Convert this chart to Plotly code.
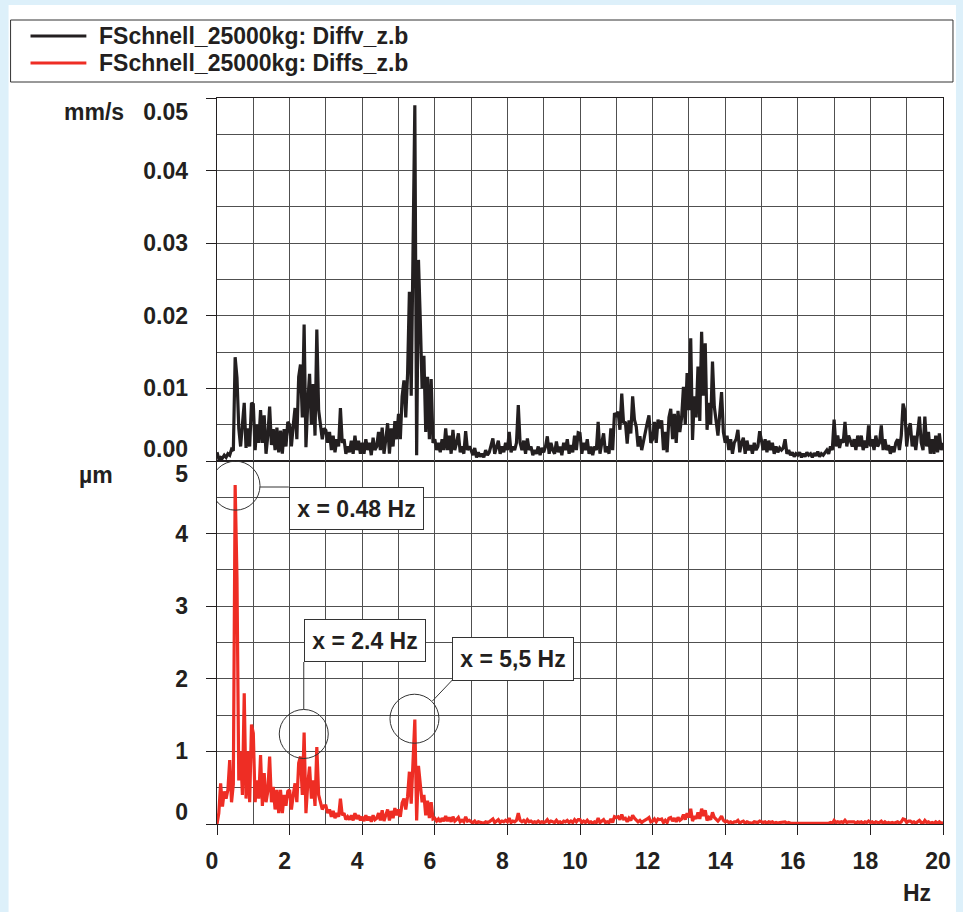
import plotly.graph_objects as go

# ---------------- data ----------------
FREQ_START_HZ = 0.0
FREQ_STEP_HZ = 0.05   # spectral line spacing of both series (0 ... 20 Hz)

# black series: velocity spectrum, mm/s
velocity_mm_s = [
    0.0012, 0.0003, 0.0005, 0.0004, 0.0008, 0.0005, 0.0010, 0.0008, 0.0016, 0.0014, 0.0143, 0.0115, 0.0045, 0.0020, 0.0050, 0.0080, 0.0018, 0.0045, 0.0020, 0.0080,
    0.0078, 0.0015, 0.0050, 0.0025, 0.0070, 0.0025, 0.0063, 0.0010, 0.0035, 0.0075, 0.0022, 0.0044, 0.0015, 0.0046, 0.0012, 0.0042, 0.0010, 0.0044, 0.0020, 0.0054,
    0.0050, 0.0020, 0.0049, 0.0073, 0.0030, 0.0116, 0.0133, 0.0060, 0.0188, 0.0019, 0.0080, 0.0120, 0.0050, 0.0106, 0.0035, 0.0181, 0.0070, 0.0045, 0.0030, 0.0045,
    0.0042, 0.0025, 0.0040, 0.0015, 0.0035, 0.0012, 0.0030, 0.0020, 0.0073, 0.0025, 0.0030, 0.0010, 0.0020, 0.0012, 0.0028, 0.0010, 0.0035, 0.0015, 0.0028, 0.0010,
    0.0025, 0.0010, 0.0030, 0.0015, 0.0025, 0.0008, 0.0032, 0.0015, 0.0020, 0.0040, 0.0015, 0.0046, 0.0010, 0.0030, 0.0052, 0.0010, 0.0045, 0.0020, 0.0055, 0.0030,
    0.0065, 0.0030, 0.0089, 0.0111, 0.0060, 0.0120, 0.0233, 0.0090, 0.0300, 0.0490, 0.0008, 0.0277, 0.0194, 0.0100, 0.0145, 0.0040, 0.0116, 0.0030, 0.0113, 0.0025,
    0.0030, 0.0015, 0.0025, 0.0012, 0.0030, 0.0015, 0.0045, 0.0015, 0.0035, 0.0010, 0.0043, 0.0015, 0.0025, 0.0038, 0.0012, 0.0020, 0.0010, 0.0041, 0.0015, 0.0020,
    0.0015, 0.0008, 0.0018, 0.0005, 0.0012, 0.0006, 0.0010, 0.0005, 0.0015, 0.0008, 0.0012, 0.0022, 0.0031, 0.0010, 0.0020, 0.0028, 0.0010, 0.0020, 0.0012, 0.0025,
    0.0015, 0.0040, 0.0012, 0.0020, 0.0015, 0.0025, 0.0077, 0.0025, 0.0015, 0.0028, 0.0010, 0.0031, 0.0015, 0.0020, 0.0008, 0.0015, 0.0010, 0.0020, 0.0008, 0.0018,
    0.0012, 0.0020, 0.0034, 0.0010, 0.0025, 0.0015, 0.0010, 0.0027, 0.0012, 0.0020, 0.0008, 0.0025, 0.0015, 0.0030, 0.0010, 0.0022, 0.0012, 0.0035, 0.0015, 0.0039,
    0.0038, 0.0010, 0.0025, 0.0015, 0.0030, 0.0010, 0.0020, 0.0008, 0.0020, 0.0015, 0.0054, 0.0010, 0.0025, 0.0038, 0.0012, 0.0020, 0.0010, 0.0045, 0.0015, 0.0066,
    0.0061, 0.0068, 0.0043, 0.0093, 0.0052, 0.0054, 0.0024, 0.0056, 0.0038, 0.0089, 0.0057, 0.0047, 0.0020, 0.0034, 0.0015, 0.0029, 0.0038, 0.0052, 0.0063, 0.0025,
    0.0030, 0.0054, 0.0025, 0.0057, 0.0045, 0.0056, 0.0015, 0.0040, 0.0012, 0.0060, 0.0072, 0.0030, 0.0065, 0.0025, 0.0069, 0.0040, 0.0060, 0.0102, 0.0050, 0.0121,
    0.0070, 0.0169, 0.0029, 0.0089, 0.0060, 0.0130, 0.0055, 0.0178, 0.0090, 0.0162, 0.0043, 0.0080, 0.0050, 0.0137, 0.0075, 0.0055, 0.0035, 0.0065, 0.0095, 0.0040,
    0.0025, 0.0035, 0.0015, 0.0030, 0.0010, 0.0025, 0.0030, 0.0043, 0.0012, 0.0025, 0.0032, 0.0010, 0.0028, 0.0015, 0.0022, 0.0010, 0.0025, 0.0015, 0.0020, 0.0041,
    0.0025, 0.0015, 0.0030, 0.0012, 0.0028, 0.0015, 0.0025, 0.0010, 0.0020, 0.0012, 0.0018, 0.0015, 0.0018, 0.0030, 0.0010, 0.0015, 0.0008, 0.0012, 0.0006, 0.0010,
    0.0008, 0.0012, 0.0005, 0.0010, 0.0006, 0.0012, 0.0008, 0.0010, 0.0005, 0.0011, 0.0007, 0.0013, 0.0006, 0.0010, 0.0008, 0.0012, 0.0015, 0.0010, 0.0020, 0.0015,
    0.0057, 0.0020, 0.0035, 0.0018, 0.0030, 0.0025, 0.0054, 0.0020, 0.0035, 0.0028, 0.0020, 0.0030, 0.0015, 0.0035, 0.0020, 0.0035, 0.0015, 0.0028, 0.0018, 0.0049,
    0.0020, 0.0030, 0.0015, 0.0035, 0.0020, 0.0025, 0.0049, 0.0015, 0.0030, 0.0015, 0.0022, 0.0010, 0.0020, 0.0012, 0.0025, 0.0030, 0.0015, 0.0035, 0.0079, 0.0069,
    0.0020, 0.0043, 0.0052, 0.0020, 0.0035, 0.0015, 0.0035, 0.0061, 0.0025, 0.0015, 0.0061, 0.0020, 0.0040, 0.0010, 0.0030, 0.0010, 0.0035, 0.0012, 0.0038, 0.0015,
    0.0025,
]

# red series: displacement spectrum, micrometres
displacement_um = [
    0.00, 0.15, 0.56, 0.24, 0.45, 0.35, 0.47, 0.88, 0.30, 0.55, 4.67, 3.39, 0.60, 1.00, 0.40, 1.80, 0.35, 1.00, 0.30, 1.37,
    1.25, 0.30, 0.60, 0.35, 0.95, 0.25, 0.70, 0.30, 0.45, 0.93, 0.30, 0.51, 0.20, 0.47, 0.15, 0.47, 0.15, 0.40, 0.25, 0.45,
    0.47, 0.20, 0.40, 0.56, 0.30, 0.84, 0.93, 0.40, 1.26, 0.15, 0.55, 0.79, 0.35, 0.60, 0.25, 1.06, 0.40, 0.30, 0.20, 0.25,
    0.25, 0.15, 0.20, 0.10, 0.18, 0.08, 0.15, 0.10, 0.35, 0.12, 0.15, 0.06, 0.10, 0.06, 0.12, 0.05, 0.15, 0.07, 0.12, 0.05,
    0.10, 0.04, 0.12, 0.05, 0.10, 0.03, 0.12, 0.06, 0.08, 0.15, 0.05, 0.19, 0.04, 0.12, 0.20, 0.05, 0.18, 0.08, 0.22, 0.12,
    0.20, 0.10, 0.29, 0.35, 0.20, 0.38, 0.72, 0.28, 0.88, 1.44, 0.05, 0.80, 0.55, 0.30, 0.40, 0.12, 0.32, 0.08, 0.30, 0.07,
    0.08, 0.04, 0.07, 0.03, 0.08, 0.04, 0.11, 0.04, 0.09, 0.03, 0.10, 0.04, 0.06, 0.09, 0.03, 0.05, 0.03, 0.10, 0.04, 0.05,
    0.03, 0.02, 0.04, 0.01, 0.03, 0.02, 0.02, 0.01, 0.03, 0.02, 0.03, 0.05, 0.07, 0.02, 0.04, 0.06, 0.02, 0.04, 0.03, 0.05,
    0.03, 0.08, 0.02, 0.04, 0.03, 0.05, 0.15, 0.05, 0.03, 0.05, 0.02, 0.06, 0.03, 0.04, 0.02, 0.03, 0.02, 0.04, 0.02, 0.03,
    0.02, 0.03, 0.06, 0.02, 0.04, 0.03, 0.02, 0.05, 0.02, 0.03, 0.01, 0.04, 0.03, 0.05, 0.02, 0.04, 0.02, 0.06, 0.03, 0.06,
    0.06, 0.02, 0.04, 0.02, 0.05, 0.02, 0.03, 0.01, 0.03, 0.02, 0.08, 0.02, 0.04, 0.06, 0.02, 0.03, 0.02, 0.07, 0.02, 0.10,
    0.09, 0.10, 0.06, 0.13, 0.07, 0.08, 0.03, 0.08, 0.05, 0.12, 0.08, 0.06, 0.03, 0.05, 0.02, 0.04, 0.05, 0.07, 0.09, 0.03,
    0.04, 0.07, 0.03, 0.07, 0.06, 0.07, 0.02, 0.05, 0.02, 0.08, 0.09, 0.04, 0.08, 0.03, 0.09, 0.05, 0.07, 0.13, 0.06, 0.15,
    0.09, 0.21, 0.04, 0.11, 0.07, 0.16, 0.07, 0.21, 0.11, 0.19, 0.05, 0.09, 0.06, 0.16, 0.09, 0.06, 0.04, 0.07, 0.11, 0.05,
    0.03, 0.04, 0.02, 0.03, 0.01, 0.03, 0.03, 0.05, 0.01, 0.03, 0.04, 0.01, 0.03, 0.02, 0.02, 0.01, 0.03, 0.02, 0.02, 0.04,
    0.03, 0.02, 0.03, 0.01, 0.03, 0.02, 0.03, 0.01, 0.02, 0.01, 0.02, 0.02, 0.02, 0.03, 0.01, 0.02, 0.01, 0.01, 0.01, 0.01,
    0.01, 0.01, 0.00, 0.01, 0.01, 0.01, 0.01, 0.01, 0.00, 0.01, 0.01, 0.01, 0.01, 0.01, 0.01, 0.01, 0.01, 0.01, 0.02, 0.01,
    0.05, 0.02, 0.03, 0.02, 0.03, 0.02, 0.05, 0.02, 0.03, 0.03, 0.02, 0.03, 0.01, 0.03, 0.02, 0.03, 0.01, 0.03, 0.02, 0.04,
    0.02, 0.03, 0.01, 0.03, 0.02, 0.02, 0.04, 0.01, 0.03, 0.01, 0.02, 0.01, 0.02, 0.01, 0.02, 0.03, 0.01, 0.03, 0.07, 0.06,
    0.02, 0.04, 0.04, 0.02, 0.03, 0.01, 0.03, 0.05, 0.02, 0.01, 0.05, 0.02, 0.03, 0.01, 0.02, 0.01, 0.03, 0.01, 0.03, 0.01,
    0.02,
]

series_names = ["FSchnell_25000kg: Diffv_z.b", "FSchnell_25000kg: Diffs_z.b"]
x_tick_vals = [0, 2, 4, 6, 8, 10, 12, 14, 16, 18, 20]
v_tick_vals = [0.00, 0.01, 0.02, 0.03, 0.04, 0.05]
v_tick_text = ["0.00", "0.01", "0.02", "0.03", "0.04", "0.05"]
s_tick_vals = [0, 1, 2, 3, 4, 5]
s_tick_text = ["0", "1", "2", "3", "4", "5"]
unit_v, unit_s, unit_x = "mm/s", "µm", "Hz"

# marked peaks on the displacement spectrum
peak_labels = ["x = 0.48 Hz", "x = 2.4 Hz", "x = 5,5 Hz"]
peak_freq_hz = [0.51, 2.39, 5.44]
peak_value_um = [4.66, 1.24, 1.45]

# ---------------- styling / layout helpers ----------------
W, H = 963, 912
ML, MR, MT, MB = 217, 18, 98, 88
PW, PH = W - ML - MR, H - MT - MB


def xp(px):
    return (px - ML) / PW


def yp(py):
    return (H - MB - py) / PH


FONT = "Liberation Sans, Arial, Helvetica, sans-serif"
TXT = "#231f20"
GRID = "#505050"
BLACK = "#231f20"
RED = "#ee2d24"
BG = "#ddf0fa"
FS = 23

fig = go.Figure()
fig.add_trace(go.Scatter(
    x0=FREQ_START_HZ, dx=FREQ_STEP_HZ, y=velocity_mm_s, name=series_names[0],
    mode="lines", line=dict(color=BLACK, width=3.2), xaxis="x2", yaxis="y2",
    showlegend=False))
fig.add_trace(go.Scatter(
    x0=FREQ_START_HZ, dx=FREQ_STEP_HZ, y=displacement_um, name=series_names[1],
    mode="lines", line=dict(color=RED, width=3.2), xaxis="x", yaxis="y",
    showlegend=False))

tickfont = dict(family=FONT, size=FS, color=TXT, weight="bold")

common_x = dict(range=[0, 20], showline=True, linecolor=BLACK, linewidth=1, mirror=True,
                showgrid=True, gridcolor=GRID, gridwidth=1, zeroline=False,
                minor=dict(dtick=1, showgrid=True, gridcolor=GRID, gridwidth=1, ticks=""))
common_y = dict(showline=True, linecolor=BLACK, linewidth=1, mirror=True,
                showgrid=True, gridcolor=GRID, gridwidth=1, zeroline=False,
                ticks="outside", ticklen=10, tickwidth=1, tickcolor=BLACK,
                showticklabels=False)

# label positions: end labels are nudged inward like the original
v_label_pos = list(v_tick_vals)
v_label_pos[0] = 0.0017
v_label_pos[-1] = 0.0481
s_label_pos = list(s_tick_vals)
s_label_pos[0] = 0.17
s_label_pos[-1] = 4.82

fig.update_layout(
    width=W, height=H, autosize=False,
    margin=dict(l=ML, r=MR, t=MT, b=MB, pad=0),
    paper_bgcolor=BG, plot_bgcolor="white",
    font=dict(family=FONT, size=FS, color=TXT),
    xaxis=dict(**common_x, anchor="y", domain=[0, 1], tickvals=x_tick_vals,
               ticks="outside", ticklen=10, tickwidth=1, tickcolor=BLACK,
               tickfont=tickfont, ticklabelstandoff=6, ticklabelshift=-5),
    xaxis2=dict(**common_x, anchor="y2", domain=[0, 1], matches="x",
                tickvals=x_tick_vals, ticks="", showticklabels=False),
    yaxis=dict(**common_y, anchor="x", domain=[0, 0.5], range=[0, 5],
               tickvals=s_tick_vals,
               minor=dict(dtick=0.5, showgrid=True, gridcolor=GRID, gridwidth=1, ticks="")),
    yaxis2=dict(**common_y, anchor="x2", domain=[0.5, 1], range=[0, 0.05],
                tickvals=v_tick_vals,
                minor=dict(dtick=0.005, showgrid=True, gridcolor=GRID, gridwidth=1, ticks="")),
    # label-only axes overlaying the two value axes
    yaxis3=dict(overlaying="y2", anchor="x2", side="left", range=[0, 0.05],
                tickvals=v_label_pos, ticktext=v_tick_text, ticks="",
                showgrid=False, zeroline=False, showline=False,
                tickfont=tickfont, ticklabelstandoff=28),
    yaxis4=dict(overlaying="y", anchor="x", side="left", range=[0, 5],
                tickvals=s_label_pos, ticktext=s_tick_text, ticks="",
                showgrid=False, zeroline=False, showline=False,
                tickfont=tickfont, ticklabelstandoff=28),
)

# empty traces so the label axes are rendered
fig.add_trace(go.Scatter(x=[None], y=[None], xaxis="x2", yaxis="y3",
                         showlegend=False, hoverinfo="skip"))
fig.add_trace(go.Scatter(x=[None], y=[None], xaxis="x", yaxis="y4",
                         showlegend=False, hoverinfo="skip"))

shapes = []
# white sheet behind everything
shapes.append(dict(type="rect", xref="paper", yref="paper", layer="below",
                   x0=xp(8), x1=xp(958), y0=yp(H + 5), y1=yp(5),
                   fillcolor="white", line=dict(width=0)))
# legend frame and samples
shapes.append(dict(type="rect", xref="paper", yref="paper",
                   x0=xp(10), x1=xp(955), y0=yp(82), y1=yp(20),
                   fillcolor="rgba(0,0,0,0)", line=dict(color="#333333", width=1)))
for py, col in [(36, BLACK), (63, RED)]:
    shapes.append(dict(type="line", xref="paper", yref="paper",
                       x0=xp(30), x1=xp(86), y0=yp(py), y1=yp(py),
                       line=dict(color=col, width=3)))

# peak circles
for f, v in zip(peak_freq_hz, peak_value_um):
    shapes.append(dict(type="circle", xref="x", yref="y",
                       xsizemode="pixel", ysizemode="pixel", xanchor=f, yanchor=v,
                       x0=-24.5, x1=24.5, y0=-24.5, y1=24.5,
                       line=dict(color="#333333", width=1)))


# connector lines (circle -> label box), given in plot pixels
def dx(px):
    return (px - ML) / PW * 20


def dy(py):
    return (H - MB - py) / (PH / 2) * 5


connectors = [((260, 487), (289, 487)), ((304, 709), (304, 662)), ((433, 701), (453, 680))]
for (ax_, ay_), (bx_, by_) in connectors:
    shapes.append(dict(type="line", xref="x", yref="y",
                       x0=dx(ax_), y0=dy(ay_), x1=dx(bx_), y1=dy(by_),
                       line=dict(color="#333333", width=1)))

annotations = []
bold = dict(family=FONT, size=FS, color=TXT, weight="bold")
# legend texts
for py, name in [(36, series_names[0]), (63, series_names[1])]:
    annotations.append(dict(xref="paper", yref="paper", x=xp(97), y=yp(py),
                            xanchor="left", yanchor="middle", showarrow=False,
                            text=name, font=bold))
# units
annotations.append(dict(xref="paper", yref="paper", x=xp(126), y=yp(112), xanchor="right",
                        yanchor="middle", showarrow=False, text=unit_v, font=bold))
annotations.append(dict(xref="paper", yref="paper", x=xp(77), y=yp(475), xanchor="left",
                        yanchor="middle", showarrow=False, text=unit_s, font=bold))
annotations.append(dict(xref="paper", yref="paper", x=xp(919), y=yp(893), xanchor="center",
                        yanchor="middle", showarrow=False, text=unit_x, font=bold))
# label boxes
boxes = [(289, 424, 487, 530), (304, 426, 619, 662), (453, 575, 637, 681)]
for (x0, x1, y0, y1), lab in zip(boxes, peak_labels):
    annotations.append(dict(xref="x", yref="y", x=dx((x0 + x1) / 2), y=dy((y0 + y1) / 2),
                            xanchor="center", yanchor="middle", showarrow=False,
                            text=lab, bgcolor="white", bordercolor="#333333",
                            borderwidth=1, borderpad=4,
                            width=(x1 - x0) - 10, height=(y1 - y0) - 10,
                            font=bold))

fig.update_layout(shapes=shapes, annotations=annotations)

# pin the graph to the top-left corner of the window so page margins or
# scrollbars cannot shift or squeeze it
post_js = (
    "var gd=document.getElementById('{plot_id}');"
    "gd.style.position='fixed';gd.style.left='0px';gd.style.top='0px';"
    "document.documentElement.style.overflow='hidden';"
    "document.body.style.margin='0px';document.body.style.overflow='hidden';"
    "document.body.style.background='" + BG + "';"
)
fig.write_html("out.html", config={"responsive": False, "displayModeBar": False},
               post_script=post_js)
